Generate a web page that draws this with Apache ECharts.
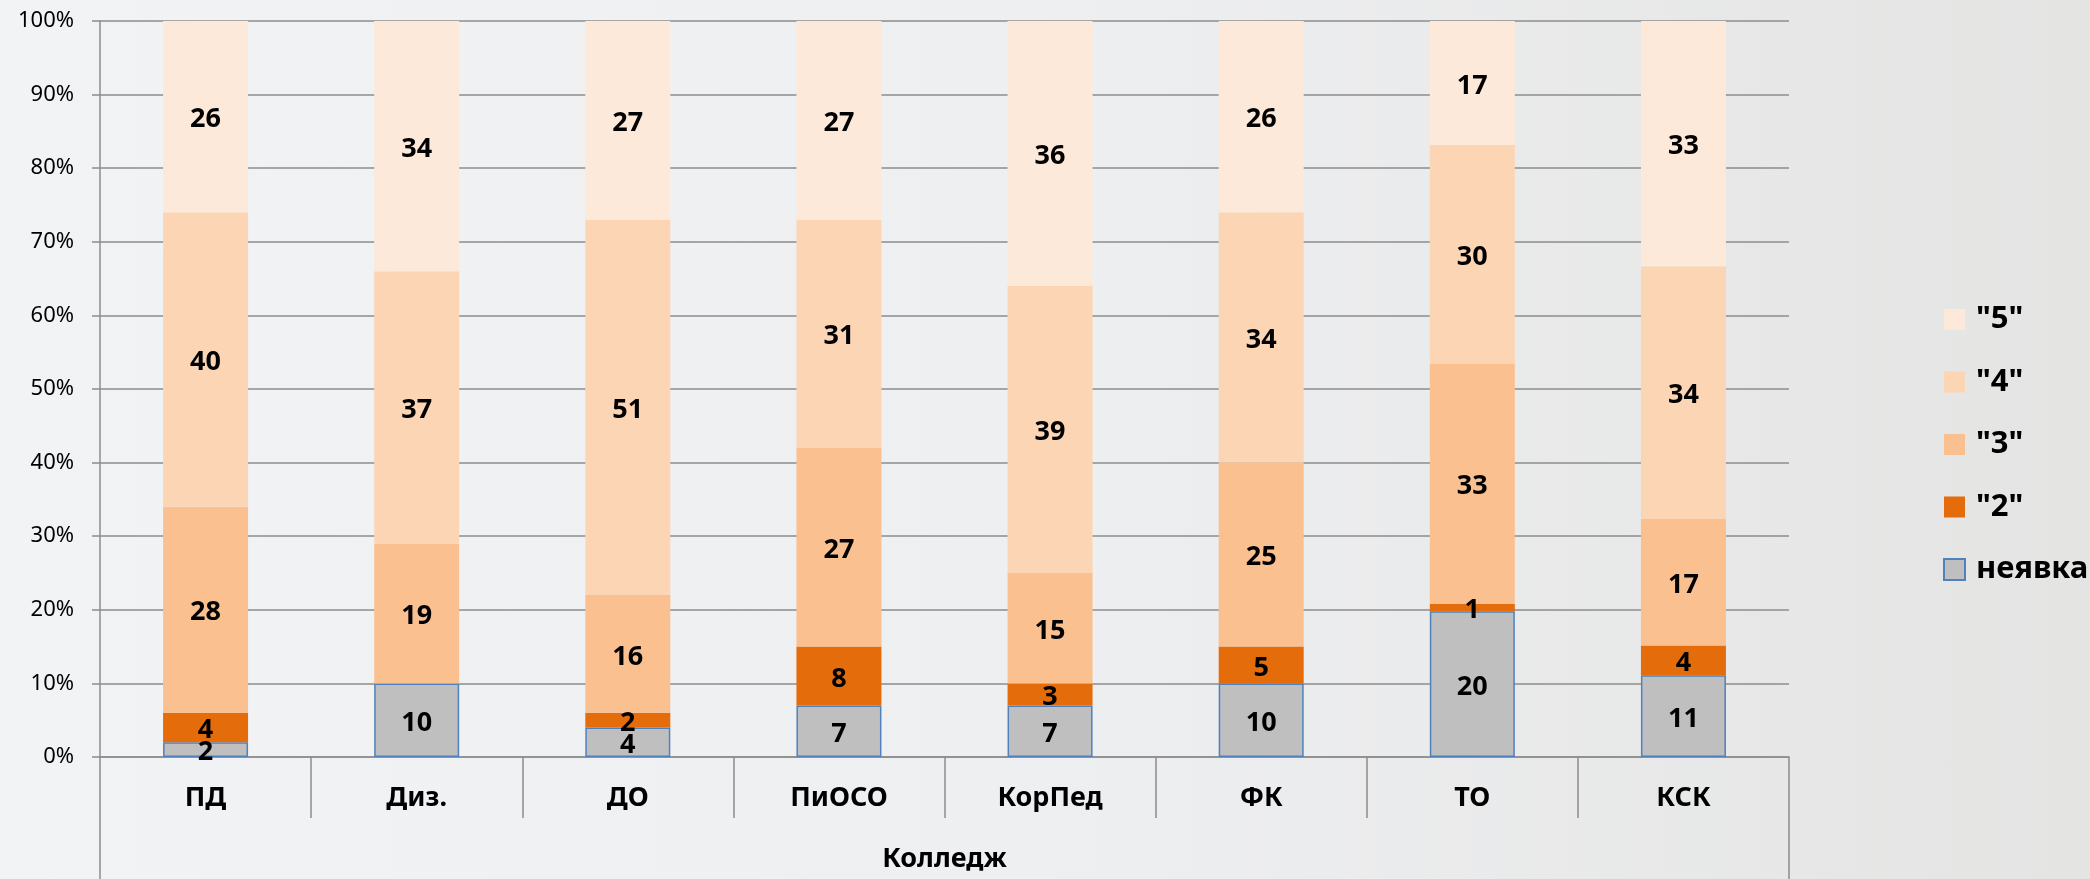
<!DOCTYPE html>
<html><head><meta charset="utf-8">
<script src="https://cdn.jsdelivr.net/npm/echarts@6/dist/echarts.min.js"></script>
<style>
html,body{margin:0;padding:0;width:2090px;height:879px;overflow:hidden;
background:linear-gradient(to right,#f2f3f5 0%,#eeeff1 50%,#e4e4e3 100%);}
#c{width:2090px;height:879px;}
</style></head><body><div id="c"></div>
<script>
const categories = ['ПД','Диз.','ДО','ПиОСО','КорПед','ФК','ТО','КСК'];
const absent = [2,10,4,7,7,10,20,11];
const grade2 = [4,0,2,8,3,5,1,4];
const grade3 = [28,19,16,27,15,25,33,17];
const grade4 = [40,37,51,31,39,34,30,34];
const grade5 = [26,34,27,27,36,26,17,33];
const yTicks = [0,10,20,30,40,50,60,70,80,90,100];
const axisTitle = 'Колледж';
const seriesNames = ['неявка','"2"','"3"','"4"','"5"'];
const legendOrder = ['"5"','"4"','"3"','"2"','неявка'];

const all = [absent, grade2, grade3, grade4, grade5];
const totals = categories.map((_, i) => all.reduce((s, a) => s + a[i], 0));
const colors = ['#bfbfbf','#e46c0a','#fac090','#fcd5b5','#fde9d9'];
const FONT = '"Noto Sans", "DejaVu Sans", sans-serif';

const series = all.map((arr, k) => ({
  name: seriesNames[k],
  type: 'bar',
  stack: 'total',
  barWidth: 85,
  data: arr.map((v, i) => ({ value: v / totals[i] * 100, raw: v })),
  itemStyle: k === 0
    ? { color: colors[k], borderColor: '#4f81bd', borderWidth: 1.5 }
    : { color: colors[k] },
  label: {
    show: true, position: 'inside', offset: [0, 3],
    formatter: p => p.data.raw ? String(p.data.raw) : '',
    color: '#000', fontFamily: FONT, fontWeight: 'bold', fontSize: 27
  },
  emphasis: { disabled: true },
  z: 2
}));

const chart = echarts.init(document.getElementById('c'), null, { renderer: 'canvas' });
chart.setOption({
  animation: false,
  backgroundColor: 'transparent',
  grid: { left: 100, right: 301, top: 21, bottom: 122, containLabel: false },
  legend: {
    orient: 'vertical', left: 1943, top: 304, padding: 0,
    data: legendOrder,
    itemWidth: 21, itemHeight: 21, itemGap: 31.5,
    icon: 'rect',
    textStyle: { fontFamily: FONT, fontWeight: 'bold', fontSize: 31, color: '#000', lineHeight: 28, padding: [0,0,0,6] },
    selectedMode: false
  },
  xAxis: [{
    type: 'category', data: categories, position: 'bottom',
    axisLine: { show: true, lineStyle: { color: '#8c8c8c', width: 1.5 } },
    axisTick: { show: true, alignWithLabel: false, interval: 0, length: 61, lineStyle: { color: '#8c8c8c', width: 1.5 } },
    axisLabel: { interval: 0, margin: 28, color: '#000', fontFamily: FONT, fontWeight: 'bold', fontSize: 27 }
  }, {
    type: 'category', data: [axisTitle], position: 'bottom', offset: 0,
    axisLine: { show: false },
    axisTick: { show: true, length: 122, lineStyle: { color: '#8c8c8c', width: 1.5 } },
    axisLabel: { margin: 89, color: '#000', fontFamily: FONT, fontWeight: 'bold', fontSize: 27 }
  }],
  yAxis: {
    type: 'value', min: yTicks[0], max: yTicks[yTicks.length - 1], interval: yTicks[1] - yTicks[0],
    axisLine: { show: true, lineStyle: { color: '#8c8c8c', width: 1.5 } },
    axisTick: { show: true, length: 8, lineStyle: { color: '#8c8c8c', width: 1.5 } },
    splitLine: { show: true, lineStyle: { color: '#8c8c8c', width: 1.5 } },
    axisLabel: { formatter: '{value}%', margin: 26, color: '#000', fontFamily: FONT, fontSize: 22 }
  },
  series: series
});
</script></body></html>
